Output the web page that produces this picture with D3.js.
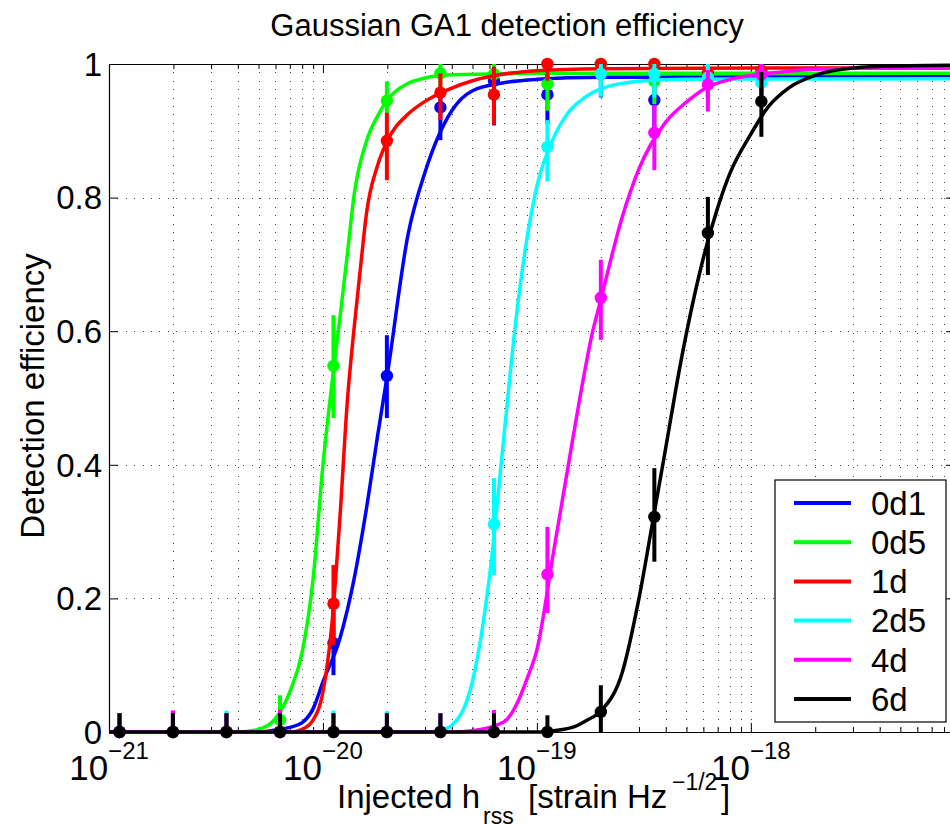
<!DOCTYPE html>
<html>
<head>
<meta charset="utf-8">
<script src="https://cdn.jsdelivr.net/npm/d3@7"></script>
<style>
body { margin: 0; background: #fff; }
text { font-family: "Liberation Sans", Arial, Helvetica, sans-serif; fill: #000; }
</style>
</head>
<body>
<div id="chart-area"></div>
<script>
// injected amplitudes (same for every series)
var amplitudes = [1.12e-21, 1.99e-21, 3.54e-21, 6.30e-21, 1.12e-20, 1.99e-20, 3.54e-20, 6.30e-20, 1.12e-19, 1.99e-19, 3.54e-19, 6.30e-19, 1.12e-18];

var labels = ["0d1", "0d5", "1d", "2d5", "4d", "6d"];
var colors = ["#0000ff", "#00ff00", "#ff0000", "#00ffff", "#ff00ff", "#000000"];

var yTickValues = [0, 0.2, 0.4, 0.6, 0.8, 1];
var xTickValues = [1e-21, 1e-20, 1e-19, 1e-18];
var xTickExponents = ["\u221221", "\u221220", "\u221219", "\u221218"];

// measured efficiency, lower and upper error bound
var eff0d1 = [0, 0, 0, 0, 0.133, 0.533, 0.935, 0.975, 0.954, 0.985, 0.946, 0.985, 0.98];
var lo0d1  = [0, 0, 0, 0, 0.085, 0.47, 0.886, 0.908, 0.91, 0.95, 0.90, 0.95, 0.94];
var hi0d1  = [0.028, 0.031, 0.028, 0.028, 0.183, 0.594, 0.965, 0.99, 0.985, 0.998, 0.98, 0.998, 0.995];

var eff0d5 = [0, 0, 0, 0.018, 0.548, 0.945, 0.986, 0.985, 0.970, 1.0, 0.974, 0.985, 0.98];
var lo0d5  = [0, 0, 0, 0, 0.47, 0.926, 0.95, 0.95, 0.93, 0.97, 0.94, 0.95, 0.945];
var hi0d5  = [0.028, 0.028, 0.028, 0.055, 0.624, 0.974, 1.0, 1.0, 0.995, 1.0, 0.995, 1.0, 0.998];

var eff1d = [0, 0, 0, 0, 0.192, 0.885, 0.957, 0.954, 1.0, 1.0, 1.0, 0.986, 0.99];
var lo1d  = [0, 0, 0, 0, 0.13, 0.826, 0.916, 0.909, 0.975, 0.975, 0.97, 0.95, 0.96];
var hi1d  = [0.028, 0.032, 0.028, 0.028, 0.25, 0.927, 0.986, 0.996, 1.0, 1.0, 1.0, 1.0, 1.0];

var eff2d5 = [0, 0, 0, 0, 0, 0, 0, 0.311, 0.876, 0.985, 0.985, 0.98, 0.972];
var lo2d5  = [0, 0, 0, 0, 0, 0, 0, 0.235, 0.824, 0.951, 0.95, 0.95, 0.94];
var hi2d5  = [0.028, 0.028, 0.032, 0.028, 0.032, 0.031, 0.028, 0.38, 0.916, 1.0, 1.0, 1.0, 0.995];

var eff4d = [0, 0, 0, 0, 0, 0, 0, 0, 0.236, 0.65, 0.897, 0.969, 0.984];
var lo4d  = [0, 0, 0, 0, 0, 0, 0, 0, 0.178, 0.587, 0.841, 0.929, 0.95];
var hi4d  = [0.028, 0.032, 0.028, 0.033, 0.028, 0.028, 0.028, 0.033, 0.307, 0.707, 0.939, 0.991, 1.0];

var eff6d = [0, 0, 0, 0, 0, 0, 0, 0, 0, 0.03, 0.322, 0.747, 0.944];
var lo6d  = [0, 0, 0, 0, 0, 0, 0, 0, 0, 0, 0.255, 0.684, 0.891];
var hi6d  = [0.028, 0.028, 0.028, 0.028, 0.028, 0.028, 0.028, 0.028, 0.025, 0.07, 0.395, 0.801, 0.988];

// fitted curves, [hrss, efficiency]
var fit0d1 = [[1e-21, 0], [5e-21, 0], [6e-21, 0.003], [7e-21, 0.007], [8e-21, 0.014], [9e-21, 0.035], [1e-20, 0.075], [1.2e-20, 0.14], [1.4e-20, 0.23], [1.6e-20, 0.336], [1.8e-20, 0.443], [2e-20, 0.535], [2.5e-20, 0.745], [3e-20, 0.838], [4e-20, 0.93], [5e-20, 0.96], [7e-20, 0.972], [1e-19, 0.977], [2e-19, 0.98], [9e-18, 0.981]];
var fit0d5 = [[1e-21, 0], [4e-21, 0], [5e-21, 0.004], [6e-21, 0.02], [7e-21, 0.06], [8e-21, 0.12], [9e-21, 0.23], [1e-20, 0.40], [1.1e-20, 0.52], [1.2e-20, 0.62], [1.3e-20, 0.715], [1.4e-20, 0.805], [1.6e-20, 0.885], [1.8e-20, 0.922], [2e-20, 0.946], [2.5e-20, 0.971], [3e-20, 0.979], [4e-20, 0.984], [6e-20, 0.985], [1e-19, 0.986], [9e-18, 0.986]];
var fit1d = [[1e-21, 0], [7e-21, 0], [8e-21, 0.004], [9e-21, 0.018], [1e-20, 0.06], [1.1e-20, 0.16], [1.2e-20, 0.32], [1.3e-20, 0.495], [1.4e-20, 0.606], [1.5e-20, 0.697], [1.6e-20, 0.778], [1.8e-20, 0.848], [2e-20, 0.885], [2.5e-20, 0.925], [3e-20, 0.944], [4e-20, 0.964], [5e-20, 0.975], [7e-20, 0.985], [1e-19, 0.99], [2e-19, 0.993], [1e-18, 0.994], [9e-18, 0.994]];
var fit2d5 = [[1e-21, 0], [3e-20, 0], [3.5e-20, 0.002], [4e-20, 0.01], [5e-20, 0.076], [6e-20, 0.232], [7e-20, 0.44], [8e-20, 0.62], [9e-20, 0.74], [1e-19, 0.817], [1.2e-19, 0.89], [1.4e-19, 0.927], [1.6e-19, 0.945], [2e-19, 0.963], [3e-19, 0.974], [5e-19, 0.977], [9e-18, 0.978]];
var fit4d = [[1e-21, 0], [4e-20, 0], [5e-20, 0.002], [7e-20, 0.015], [8e-20, 0.04], [9e-20, 0.08], [1e-19, 0.123], [1.2e-19, 0.272], [1.4e-19, 0.398], [1.6e-19, 0.506], [1.8e-19, 0.592], [2e-19, 0.65], [2.5e-19, 0.77], [3e-19, 0.843], [4e-19, 0.913], [5e-19, 0.943], [6e-19, 0.962], [8e-19, 0.977], [1e-18, 0.983], [1.5e-18, 0.989], [2e-18, 0.992], [4e-18, 0.994], [9e-18, 0.994]];
var fit6d = [[1e-21, 0], [1e-19, 0], [1.2e-19, 0.002], [1.5e-19, 0.008], [1.7e-19, 0.017], [2e-19, 0.032], [2.5e-19, 0.088], [3e-19, 0.2], [3.5e-19, 0.32], [4e-19, 0.425], [4.5e-19, 0.52], [5e-19, 0.597], [6e-19, 0.71], [7e-19, 0.785], [8e-19, 0.837], [1e-18, 0.895], [1.2e-18, 0.935], [1.5e-18, 0.964], [2e-18, 0.983], [3e-18, 0.994], [5e-18, 0.997], [9e-18, 0.998]];

var effs = [eff0d1, eff0d5, eff1d, eff2d5, eff4d, eff6d];
var los = [lo0d1, lo0d5, lo1d, lo2d5, lo4d, lo6d];
var his = [hi0d1, hi0d5, hi1d, hi2d5, hi4d, hi6d];
var fits = [fit0d1, fit0d5, fit1d, fit2d5, fit4d, fit6d];

var table = labels.map(function (name, i) {
    return {
        name: name,
        color: colors[i],
        fit: fits[i],
        points: amplitudes.map(function (a, j) {
            return { h: a, v: effs[i][j], lo: los[i][j], hi: his[i][j] };
        })
    };
});

var W = 950, H = 824;
var plot = { left: 109, right: 955, top: 64, bottom: 732 };

var svg = d3.select("#chart-area")
    .append("svg")
    .attr("width", W)
    .attr("height", H)
    .style("display", "block");

// Scales
var x = d3.scaleLog().domain([1e-21, 9e-18]).range([plot.left, plot.right]);
var y = d3.scaleLinear().domain([0, 1]).range([plot.bottom, plot.top]);

var minorTicks = [];
[-21, -20, -19, -18].forEach(function (e) {
    for (var m = 2; m <= 9; m++) {
        var v = m * Math.pow(10, e);
        if (v <= 9.01e-18) minorTicks.push(v);
    }
});

// Grid (dotted)
var grid = svg.append("g")
    .attr("stroke", "#444")
    .attr("stroke-width", 1)
    .attr("stroke-dasharray", "1,7.4")
    .attr("shape-rendering", "crispEdges");

grid.selectAll("line.vx")
    .data(xTickValues.concat(minorTicks))
    .enter().append("line")
    .attr("class", "vx")
    .attr("x1", d => Math.round(x(d)) + 0.5)
    .attr("x2", d => Math.round(x(d)) + 0.5)
    .attr("y1", plot.top)
    .attr("y2", plot.bottom);

grid.selectAll("line.hy")
    .data(yTickValues.filter(d => d > 0 && d < 1))
    .enter().append("line")
    .attr("class", "hy")
    .attr("x1", plot.left)
    .attr("x2", plot.right)
    .attr("y1", d => Math.round(y(d)) + 0.5)
    .attr("y2", d => Math.round(y(d)) + 0.5);

// Axes (ticks point inward)
function styleAxis(g) {
    g.selectAll("path, line").attr("stroke", "#000");
    g.selectAll("path").attr("stroke-width", 1.2);
}

svg.append("g").attr("transform", `translate(0,${plot.bottom})`)
    .call(d3.axisBottom(x).tickValues(xTickValues).tickSize(-9).tickSizeOuter(0).tickFormat(""))
    .call(styleAxis);
svg.append("g").attr("transform", `translate(0,${plot.bottom})`)
    .call(d3.axisBottom(x).tickValues(minorTicks).tickSize(-5).tickSizeOuter(0).tickFormat(""))
    .call(styleAxis);
svg.append("g").attr("transform", `translate(0,${plot.top})`)
    .call(d3.axisTop(x).tickValues(xTickValues).tickSize(-9).tickSizeOuter(0).tickFormat(""))
    .call(styleAxis);
svg.append("g").attr("transform", `translate(0,${plot.top})`)
    .call(d3.axisTop(x).tickValues(minorTicks).tickSize(-5).tickSizeOuter(0).tickFormat(""))
    .call(styleAxis);
svg.append("g").attr("transform", `translate(${plot.left},0)`)
    .call(d3.axisLeft(y).tickValues(yTickValues).tickSize(-9).tickSizeOuter(0).tickFormat(""))
    .call(styleAxis);
svg.append("g").attr("transform", `translate(${plot.right},0)`)
    .call(d3.axisRight(y).tickValues(yTickValues).tickSize(-9).tickSizeOuter(0).tickFormat(""))
    .call(styleAxis);

// Tick labels
svg.append("g").selectAll("text")
    .data(yTickValues)
    .enter().append("text")
    .attr("x", plot.left - 7)
    .attr("y", d => y(d))
    .attr("dy", "0.36em")
    .attr("text-anchor", "end")
    .attr("font-size", 33)
    .text(d => d3.format("~g")(d));

var xLabels = svg.append("g").selectAll("text")
    .data(xTickValues)
    .enter().append("text")
    .attr("x", d => x(d))
    .attr("y", 780)
    .attr("text-anchor", "middle")
    .attr("font-size", 35);
xLabels.append("tspan").text("10");
xLabels.append("tspan").attr("font-size", 24).attr("dy", -21).text((d, i) => xTickExponents[i]);

// Series: fit curve, error bars, points
var line = d3.line()
    .x(d => x(d[0]))
    .y(d => y(d[1]))
    .curve(d3.curveMonotoneX);

table.forEach(function (s) {
    var g = svg.append("g").attr("class", "series");

    g.append("path")
        .datum(s.fit)
        .attr("fill", "none")
        .attr("stroke", s.color)
        .attr("stroke-width", 3.5)
        .attr("d", line);

    g.selectAll("line.err")
        .data(s.points)
        .enter().append("line")
        .attr("class", "err")
        .attr("x1", d => x(d.h))
        .attr("x2", d => x(d.h))
        .attr("y1", d => y(d.lo))
        .attr("y2", d => y(d.hi))
        .attr("stroke", s.color)
        .attr("stroke-width", 4);

    g.selectAll("circle")
        .data(s.points)
        .enter().append("circle")
        .attr("cx", d => x(d.h))
        .attr("cy", d => y(d.v))
        .attr("r", 6.2)
        .attr("fill", s.color);
});

// Legend
var legend = svg.append("g").attr("transform", "translate(775,480)");
legend.append("rect")
    .attr("width", 171)
    .attr("height", 242)
    .attr("fill", "#fff")
    .attr("stroke", "#000")
    .attr("stroke-width", 1.2);

table.forEach(function (s, i) {
    var row = legend.append("g").attr("transform", `translate(0,${23 + i * 39.2})`);
    row.append("line")
        .attr("x1", 19)
        .attr("x2", 76)
        .attr("stroke", s.color)
        .attr("stroke-width", 4);
    row.append("text")
        .attr("x", 96)
        .attr("dy", "0.36em")
        .attr("font-size", 33)
        .text(s.name);
});

// Title and axis labels
svg.append("text")
    .attr("x", 507)
    .attr("y", 36)
    .attr("text-anchor", "middle")
    .attr("font-size", 31)
    .text("Gaussian GA1 detection efficiency");

svg.append("text")
    .attr("transform", "translate(44,396) rotate(-90)")
    .attr("text-anchor", "middle")
    .attr("font-size", 33)
    .text("Detection efficiency");

var xTitle = svg.append("text").attr("y", 808).attr("font-size", 33);
xTitle.append("tspan").attr("x", 337).text("Injected h");
xTitle.append("tspan").attr("x", 483).attr("dy", 16).attr("font-size", 23).text("rss");
xTitle.append("tspan").attr("x", 528).attr("dy", -16).text("[strain Hz");
xTitle.append("tspan").attr("x", 672).attr("dy", -18).attr("font-size", 23).text("\u22121/2");
xTitle.append("tspan").attr("x", 721).attr("dy", 18).text("]");
</script>
</body>
</html>
